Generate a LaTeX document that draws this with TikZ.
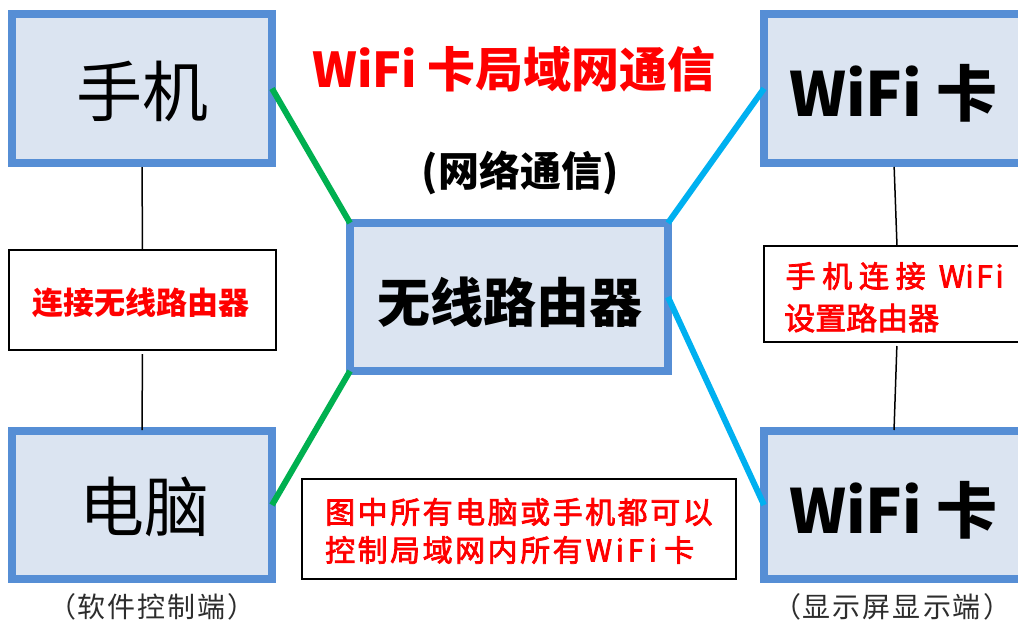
\documentclass[tikz,border=0pt]{standalone}
\usepackage{fontspec}
\newfontfamily\cjk{Noto Sans CJK SC}
\newfontfamily\cjkmed[FakeBold=2.5]{Noto Sans CJK SC}
\newcommand\song{\cjk}
\definecolor{boxblue}{RGB}{86,142,213}
\definecolor{boxfill}{RGB}{219,228,241}
\definecolor{lgreen}{RGB}{0,176,80}
\definecolor{lblue}{RGB}{0,176,240}
\definecolor{capgray}{RGB}{45,45,45}
\newcommand\mkc[2]{\makebox[#1][c]{#2}}
\begin{document}
\begin{tikzpicture}[x=1pt,y=-1pt,
  bigbox/.style={draw=boxblue,fill=boxfill,line width=8pt,rectangle,inner sep=0pt,outer sep=0pt},
  lblbox/.style={draw=black,line width=2pt,fill=white,rectangle,inner sep=0pt,outer sep=0pt},
  gline/.style={draw=lgreen,line width=6pt},
  bline/.style={draw=lblue,line width=6pt},
  thinline/.style={draw=black,line width=1.5pt,shorten <=4pt,shorten >=1pt},
  redtxt/.style={text=red,inner sep=0pt},
  captxt/.style={text=capgray,inner sep=0pt,font=\song\fontsize{28}{28}\selectfont}]
\clip (0,0) rectangle (1018,622);
\fill[white] (0,0) rectangle (1018,622);
% main boxes
\node[bigbox,minimum width=260pt,minimum height=149pt] (phone) at (142,88.5) {};
\node[bigbox,minimum width=260pt,minimum height=148pt] (pc) at (142,505) {};
\node[bigbox,minimum width=318pt,minimum height=148pt] (router) at (509,297) {};
\node[bigbox,minimum width=260pt,minimum height=149pt] (wifiA) at (894,88.5) {};
\node[bigbox,minimum width=260pt,minimum height=148pt] (wifiB) at (894,505) {};
% label boxes
\node[lblbox,minimum width=267pt,minimum height=100pt] (lblL) at (142.5,300) {};
\node[lblbox,minimum width=266pt,minimum height=96pt] (lblR) at (897,294) {};
\node[lblbox,minimum width=434pt,minimum height=100pt] (note) at (519,529) {};
% texts in boxes
\node[inner sep=0pt,font=\song\fontsize{66}{66}\selectfont] (phonet) at (142,91) {手机};
\node[inner sep=0pt,font=\song\fontsize{65}{65}\selectfont] (pct) at (144,507) {电脑};
\node[inner sep=0pt,font=\cjk\bfseries\fontsize{53}{53}\selectfont] (routert) at (510,302) {无线路由器};
\node[inner sep=0pt,font=\cjk\bfseries\fontsize{61}{61}\selectfont] (wifiAt) at (893,93) {WiFi 卡};
\node[inner sep=0pt,font=\cjk\bfseries\fontsize{61}{61}\selectfont] (wifiBt) at (893,510) {WiFi 卡};
% titles
\node[redtxt,font=\cjk\bfseries\fontsize{48}{48}\selectfont] (title) at (514,69) {WiFi 卡局域网通信};
\node[inner sep=0pt,font=\cjk\bfseries\fontsize{41}{41}\selectfont] (subtitle) at (520,173) {(网络通信)};
% label texts
\node[redtxt,font=\cjk\bfseries\fontsize{31}{31}\selectfont] (lblLt) at (141,303) {连接无线路由器};
\node[redtxt,anchor=west,font=\cjkmed\fontsize{30}{30}\selectfont] (lblRa) at (782,276)
  {\mkc{36.7pt}{手}\mkc{36.7pt}{机}\mkc{36.7pt}{连}\mkc{36.7pt}{接}\hspace{13pt}\mkc{20pt}{W}\mkc{15pt}{i}\mkc{15pt}{F}\mkc{15pt}{i}};
\node[redtxt,anchor=west,font=\cjkmed\fontsize{31}{31}\selectfont] (lblRb) at (784,318) {设置路由器};
\node[redtxt,anchor=west,font=\cjkmed\fontsize{30}{30}\selectfont] (noteA) at (323.75,512)
  {\mkc{32.5pt}{图}\mkc{32.5pt}{中}\mkc{32.5pt}{所}\mkc{32.5pt}{有}\mkc{32.5pt}{电}\mkc{32.5pt}{脑}\mkc{32.5pt}{或}\mkc{32.5pt}{手}\mkc{32.5pt}{机}\mkc{32.5pt}{都}\mkc{32.5pt}{可}\mkc{32.5pt}{以}};
\node[redtxt,anchor=west,font=\cjkmed\fontsize{30}{30}\selectfont] (noteB) at (323.75,550)
  {\mkc{32.5pt}{控}\mkc{32.5pt}{制}\mkc{32.5pt}{局}\mkc{32.5pt}{域}\mkc{32.5pt}{网}\mkc{32.5pt}{内}\mkc{32.5pt}{所}\mkc{32.5pt}{有}\mkc{30pt}{W}\mkc{12pt}{i}\mkc{20pt}{F}\mkc{14pt}{i}\hspace{3pt}\mkc{32.5pt}{卡}};
% captions
\node[captxt] (capL) at (152,607) {\mkc{30pt}{（}\mkc{30pt}{软}\mkc{30pt}{件}\mkc{30pt}{控}\mkc{30pt}{制}\mkc{30pt}{端}\mkc{30pt}{）}};
\node[captxt] (capR) at (892,607) {\mkc{30pt}{（}\mkc{30pt}{显}\mkc{30pt}{示}\mkc{30pt}{屏}\mkc{30pt}{显}\mkc{30pt}{示}\mkc{30pt}{端}\mkc{30pt}{）}};
% connectors
\draw[gline] (phone.east) -- (router.north west);
\draw[gline] (router.south west) -- (pc.east);
\draw[bline] (wifiA.west) -- (router.north east);
\draw[bline] (router.east) -- (wifiB.west);
\draw[thinline] (phone.south) -- (lblL.north);
\draw[thinline] (lblL.south) -- (pc.north);
\draw[thinline] (wifiA.south) -- (lblR.north);
\draw[thinline] (lblR.south) -- (wifiB.north);
\end{tikzpicture}
\end{document}
